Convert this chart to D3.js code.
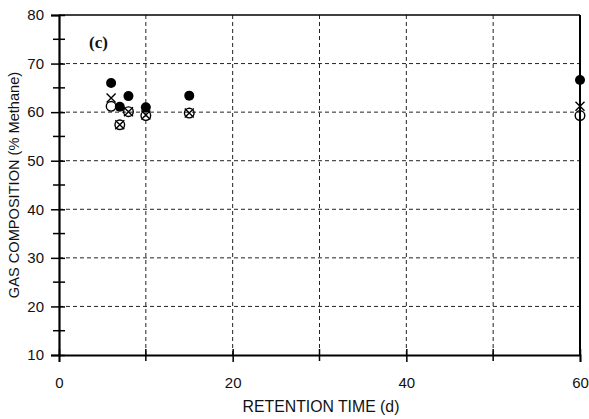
<!DOCTYPE html>
<html>
<head>
<meta charset="utf-8">
<script src="https://cdn.jsdelivr.net/npm/d3@7"></script>
<style>
  body { margin: 0; background: #fff; }
  svg text { font-family: "Liberation Sans", Arial, sans-serif; fill: #111; }
</style>
</head>
<body>
<div id="chart"></div>
<script>
let width = 589, height = 419;
let margin = { left: 59, right: 9, top: 15, bottom: 64 };

// retention time (d) and methane % for the three series
const days = [6, 7, 8, 10, 15, 60];
const filled = [66.0, 61.1, 63.3, 61.0, 63.4, 66.6];
const open = [61.2, 57.4, 60.1, 59.3, 59.8, 59.3];
const cross = [62.9, 57.4, 60.1, 59.4, 59.8, 61.2];

const xTicks = [0, 20, 40, 60];
const yTicks = [10, 20, 30, 40, 50, 60, 70, 80];
const xGrid = [10, 20, 30, 40, 50];
const yGrid = [20, 30, 40, 50, 60, 70];
const yMinor = [15, 25, 35, 45, 55, 65, 75];
const xMinor = [10, 30, 50];

let svg = d3.select('#chart').append('svg')
    .attr('width', width)
    .attr('height', height);

let x = d3.scaleLinear().domain([0, 60]).range([margin.left, width - margin.right]);
let y = d3.scaleLinear().domain([10, 80]).range([height - margin.bottom, margin.top]);

// grid
svg.append('g').selectAll('line')
    .data(xGrid)
    .enter().append('line')
    .attr('x1', d => x(d)).attr('x2', d => x(d))
    .attr('y1', y(80)).attr('y2', y(10))
    .attr('stroke', '#222').attr('stroke-width', 1)
    .attr('stroke-dasharray', '4,3');

svg.append('g').selectAll('line')
    .data(yGrid)
    .enter().append('line')
    .attr('x1', x(0)).attr('x2', x(60))
    .attr('y1', d => y(d)).attr('y2', d => y(d))
    .attr('stroke', '#222').attr('stroke-width', 1)
    .attr('stroke-dasharray', '4,3');

// frame
svg.append('line').attr('x1', x(0)).attr('x2', x(60)).attr('y1', y(80)).attr('y2', y(80))
    .attr('stroke', '#000').attr('stroke-width', 1.5);
svg.append('line').attr('x1', x(60)).attr('x2', x(60)).attr('y1', y(80)).attr('y2', y(10))
    .attr('stroke', '#000').attr('stroke-width', 2);

// axes
let yAxis = svg.append('g')
    .attr('transform', 'translate(' + x(0) + ',0)')
    .call(d3.axisLeft(y).tickValues(yTicks).tickSize(8).tickPadding(7));
yAxis.select('.domain').attr('stroke-width', 2.2);
yAxis.selectAll('.tick line').attr('stroke-width', 1.5).attr('x2', 6).attr('x1', -8);
yAxis.selectAll('text').attr('font-size', 15);

svg.append('g').selectAll('line')
    .data(yMinor)
    .enter().append('line')
    .attr('x1', x(0) - 6).attr('x2', x(0) + 6)
    .attr('y1', d => y(d)).attr('y2', d => y(d))
    .attr('stroke', '#000').attr('stroke-width', 1.5);

let xAxis = svg.append('g')
    .attr('transform', 'translate(0,' + y(10) + ')')
    .call(d3.axisBottom(x).tickValues(xTicks).tickSize(7).tickPadding(15));
xAxis.select('.domain').attr('stroke-width', 1.8);
xAxis.selectAll('.tick line').attr('stroke-width', 1.5).attr('y1', -6);
xAxis.selectAll('text').attr('font-size', 15);

svg.append('g').selectAll('line')
    .data(xMinor)
    .enter().append('line')
    .attr('x1', d => x(d)).attr('x2', d => x(d))
    .attr('y1', y(10) - 6).attr('y2', y(10) + 6)
    .attr('stroke', '#000').attr('stroke-width', 1.5);

// labels
svg.append('text')
    .attr('transform', 'translate(19,' + ((y(80) + y(10)) / 2) + ') rotate(-90)')
    .attr('text-anchor', 'middle')
    .attr('font-size', 14.6)
    .text('GAS COMPOSITION (% Methane)');

svg.append('text')
    .attr('x', 321).attr('y', 412)
    .attr('text-anchor', 'middle')
    .attr('font-size', 15.8)
    .text('RETENTION TIME (d)');

svg.append('text')
    .attr('x', 89).attr('y', 48)
    .attr('font-weight', 'bold')
    .attr('font-size', 17)
    .style('font-family', '"Liberation Serif", serif')
    .text('(c)');

// markers
let pts = days.map((d, i) => ({ d: d, f: filled[i], o: open[i], c: cross[i] }));

svg.append('g').selectAll('circle.o')
    .data(pts)
    .enter().append('circle')
    .attr('cx', p => x(p.d)).attr('cy', p => y(p.o))
    .attr('r', 4.8)
    .attr('fill', 'none').attr('stroke', '#000').attr('stroke-width', 1.4);

let cs = 4.5;
svg.append('g').selectAll('path')
    .data(pts)
    .enter().append('path')
    .attr('d', p => {
        let cx = x(p.d), cy = y(p.c);
        return 'M' + (cx - cs) + ',' + (cy - cs) + 'L' + (cx + cs) + ',' + (cy + cs) +
            'M' + (cx - cs) + ',' + (cy + cs) + 'L' + (cx + cs) + ',' + (cy - cs);
    })
    .attr('stroke', '#000').attr('stroke-width', 1.4).attr('fill', 'none');

svg.append('g').selectAll('circle.f')
    .data(pts)
    .enter().append('circle')
    .attr('cx', p => x(p.d)).attr('cy', p => y(p.f))
    .attr('r', 5)
    .attr('fill', '#000');
</script>
</body>
</html>
